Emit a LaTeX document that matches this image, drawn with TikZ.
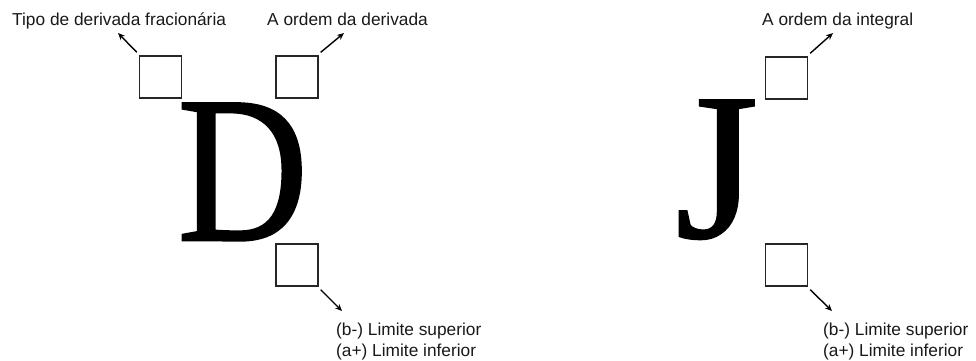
\documentclass[tikz,border=0pt]{standalone}
\usepackage{fontspec}
\setmainfont{Liberation Sans}
\newfontfamily\glyphfont[FakeBold=1]{Liberation Serif}
\usetikzlibrary{arrows.meta}
\tikzset{
  slot/.style={draw=black!85, line width=1.3pt, minimum width=42pt, minimum height=42pt, inner sep=0pt},
  note/.style={font=\fontsize{17.3}{20}\selectfont, inner sep=0pt, text=black!90},
  pointer/.style={line width=1.4pt, -{Stealth[length=7pt,width=6pt]}},
  bigglyph/.style={inner sep=0pt, anchor=north west}
}
\begin{document}
\begin{tikzpicture}[x=1pt,y=-1pt]
  \useasboundingbox (0,0) rectangle (976,360);
  % operator letters
  \node[bigglyph] (D) at (177,103) {\resizebox{131pt}{137pt}{\fontsize{200}{200}\glyphfont D}};
  \node[bigglyph] (J) at (675,100) {\resizebox{83pt}{137pt}{\fontsize{200}{200}\glyphfont J}};
  % placeholder squares
  \node[slot] (dtype) at (160.5,77) {};
  \node[slot] (dorder) at (297,77) {};
  \node[slot] (dlim) at (297,265) {};
  \node[slot] (jorder) at (786.5,78) {};
  \node[slot] (jlim) at (786.5,265) {};
  % labels
  \node[note, anchor=base west] (ltype) at (12,25) {Tipo de derivada fracionária};
  \node[note, anchor=base west] (lorder) at (267,25) {A ordem da derivada};
  \node[note, anchor=base west] (lint) at (762,25) {A ordem da integral};
  \node[note, anchor=base west] (dsup) at (336,335) {(b-) Limite superior};
  \node[note, anchor=base west] (dinf) at (336,356) {(a+) Limite inferior};
  \node[note, anchor=base west] (jsup) at (823,335) {(b-) Limite superior};
  \node[note, anchor=base west] (jinf) at (823,356) {(a+) Limite inferior};
  % arrow tips
  \coordinate (ttype) at (118,33);
  \coordinate (torder) at (344,33);
  \coordinate (tdlim) at (342,311);
  \coordinate (tjorder) at (833,33);
  \coordinate (tjlim) at (832,311);
  \draw[pointer] ([shift={(-2,-3)}]dtype.north west) -- (ttype);
  \draw[pointer] ([shift={(2,-3)}]dorder.north east) -- (torder);
  \draw[pointer] ([shift={(2,3)}]dlim.south east) -- (tdlim);
  \draw[pointer] ([shift={(2,-3)}]jorder.north east) -- (tjorder);
  \draw[pointer] ([shift={(2,3)}]jlim.south east) -- (tjlim);
\end{tikzpicture}
\end{document}
